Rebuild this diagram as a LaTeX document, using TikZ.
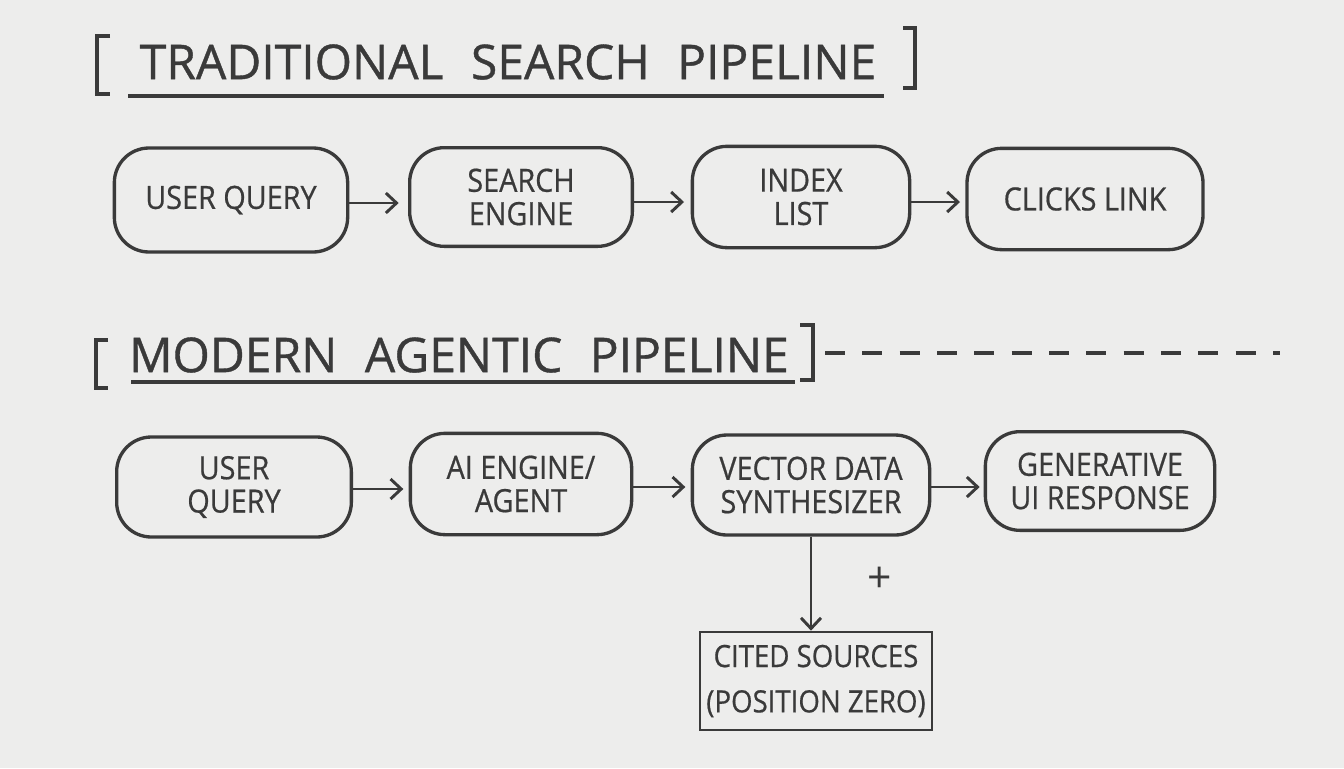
\documentclass[tikz,border=0pt]{standalone}
\usepackage{fontspec}
\setmainfont{Open Sans}
\newfontfamily\hand[FakeStretch=0.9,FakeBold=0.6]{Open Sans}
\newfontfamily\handtitle[FakeStretch=1.0,FakeBold=0.8,WordSpace=2.2]{Open Sans}
\usetikzlibrary{arrows.meta}
\definecolor{ink}{HTML}{3A3A3A}
\definecolor{paper}{HTML}{EDEDEC}
\tikzset{
  pill/.style={draw=ink, line width=2.5pt, rounded corners=26pt, align=center,
    text=ink, font=\hand\fontsize{24}{25}\selectfont, inner sep=0pt},
  sqbox/.style={draw=ink, line width=2pt, align=center,
    text=ink, font=\hand\fontsize{23}{34}\selectfont, inner sep=0pt},
  title/.style={text=ink, font=\handtitle\fontsize{36}{40}\selectfont, inner sep=0pt},
  ln/.style={draw=ink, line width=2.5pt},
  arr/.style={draw=ink, line width=2.2pt, -{Straight Barb[length=8pt,width=15pt,line width=2.2pt]}},
}
\begin{document}
\begin{tikzpicture}[x=0.75pt,y=-0.75pt]
\fill[paper] (0,0) rectangle (1344,768);
\useasboundingbox (0,0) rectangle (1344,768);

% Title 1
\node[title] (t1) at (508,62) {TRADITIONAL SEARCH PIPELINE};
\draw[ln] (110,36) -- (97,36) -- (97,94) -- (110,94);
\draw[ln] (903,28) -- (915,28) -- (915,88) -- (903,88);
\draw[ln] (128,96) -- (884,96);

% Row 1
\node[pill, minimum width=175pt, minimum height=78pt] (q1) at (231,200) {USER QUERY};
\node[pill, minimum width=167pt, minimum height=74pt] (se) at (521,197) {SEARCH\\ENGINE};
\node[pill, minimum width=163pt, minimum height=76pt] (il) at (801,197) {INDEX\\LIST};
\node[pill, minimum width=177pt, minimum height=76pt] (cl) at (1085,199) {CLICKS LINK};
\draw[arr, shorten >=7pt] (q1.east |- 0,203) -- (se.west |- 0,203);
\draw[arr, shorten >=5pt] (se.east |- 0,202) -- (il.west |- 0,202);
\draw[arr, shorten >=4pt] (il.east |- 0,202) -- (cl.west |- 0,202);

% Title 2
\node[title] (t2) at (459,355) {MODERN AGENTIC PIPELINE};
\draw[ln] (108,340) -- (96,340) -- (96,388) -- (108,388);
\draw[ln] (800,325) -- (813,325) -- (813,380) -- (800,380);
\draw[ln] (131,382) -- (795,382);
\coordinate (dashA) at (825,353);
\coordinate (dashB) at (1280,353);
\draw[ink, line width=2.6pt, dash pattern=on 15pt off 13pt] (dashA) -- (dashB);

% Row 2
\node[pill, minimum width=176pt, minimum height=75pt] (q2) at (234,487) {USER\\QUERY};
\node[pill, minimum width=166pt, minimum height=76pt] (ai) at (521,484) {AI ENGINE/\\AGENT};
\node[pill, minimum width=178pt, minimum height=75pt] (vd) at (811,485) {VECTOR DATA\\SYNTHESIZER};
\node[pill, minimum width=172pt, minimum height=74pt] (gu) at (1100,481) {GENERATIVE\\UI RESPONSE};
\draw[arr, shorten >=4pt] (q2.east |- 0,489) -- (ai.west |- 0,489);
\draw[arr, shorten >=4pt] (ai.east |- 0,487) -- (vd.west |- 0,487);
\draw[arr, shorten >=3pt] (vd.east |- 0,487) -- (gu.west |- 0,487);

% Cited sources
\node[sqbox, minimum width=174pt, minimum height=73.5pt] (cs) at (816,681) {CITED SOURCES\\(POSITION ZERO)};
\draw[arr] (vd.south -| 811,0) -- (cs.north -| 811,0);
\node[text=ink, font=\fontsize{32}{32}\selectfont, inner sep=0pt] (plus) at (880,580) {+};
\end{tikzpicture}
\end{document}
